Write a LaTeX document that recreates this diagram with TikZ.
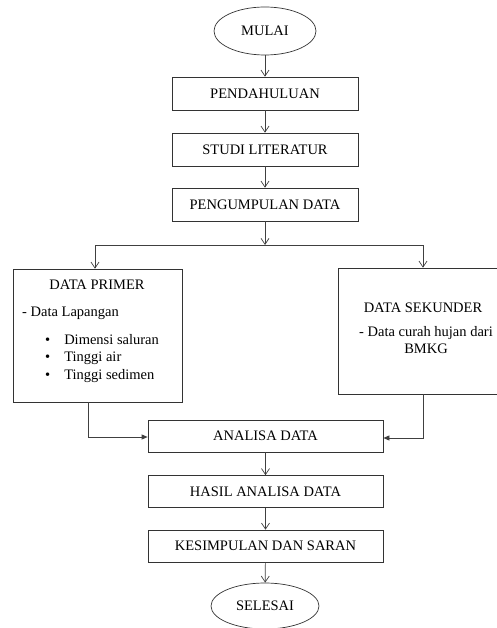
\documentclass[tikz,border=0pt]{standalone}
\usepackage{fontspec}
\setmainfont{Liberation Serif}
\usetikzlibrary{shapes.geometric,arrows.meta}
\begin{document}
\begin{tikzpicture}[x=1pt,y=-1pt,
    font=\fontsize{14.5}{17}\selectfont,
    stepbox/.style={draw=black!80,line width=0.7pt,minimum width=186pt,minimum height=33pt,inner sep=0pt},
    widebox/.style={stepbox,minimum width=235pt,minimum height=32pt},
    ends/.style={draw=black!80,line width=0.7pt,ellipse,inner sep=0pt},
    line/.style={draw=black!75,line width=0.7pt},
    flow/.style={line,-{Straight Barb[length=6pt,width=8pt]}},
    feed/.style={line,-{Triangle[length=6pt,width=5pt]}}]
            \useasboundingbox (0,0) rectangle (497,628);
            \node[ends,minimum width=102pt,minimum height=48pt] (M) at (265,31) {MULAI};
            \node[stepbox] (Pd) at (265,93.5) {PENDAHULUAN};
            \node[stepbox] (St) at (265,149.5) {STUDI LITERATUR};
            \node[stepbox] (Pg) at (265,204.5) {PENGUMPULAN DATA};

            \coordinate (B0) at (265,245);
            \coordinate (BL) at (95,245);
            \coordinate (BR) at (423,245);

            \node[draw=black!80,line width=0.7pt,minimum width=169pt,minimum height=133pt] (Pr) at (97.5,335.5) {};
            \node (PrT) at (97,285) {DATA PRIMER};
            \node[anchor=west,inner sep=0pt] (PrA) at (22,313) {- Data Lapangan};
            \node[anchor=west,inner sep=0pt] (PrB) at (45,340) {\textbullet\hspace{14pt}Dimensi saluran};
            \node[anchor=west,inner sep=0pt] (PrC) at (45,358) {\textbullet\hspace{14pt}Tinggi air};
            \node[anchor=west,inner sep=0pt] (PrD) at (45,376) {\textbullet\hspace{14pt}Tinggi sedimen};

            \node[draw=black!80,line width=0.7pt,minimum width=159pt,minimum height=126pt] (Sk) at (417.5,331) {};
            \node (SkT) at (423,308) {DATA SEKUNDER};
            \node[align=center,inner sep=0pt] (SkA) at (426,340) {- Data curah hujan dari\\BMKG};

            \node[widebox] (An) at (265.5,436) {ANALISA DATA};
            \node[widebox] (Hs) at (265.5,491.5) {HASIL ANALISA DATA};
            \node[widebox] (Ks) at (265.5,546) {KESIMPULAN DAN SARAN};
            \node[ends,minimum width=108pt,minimum height=46pt] (Se) at (265,606) {SELESAI};

            \coordinate (PL) at (88,437);
            \coordinate (SR) at (423,438);

            \draw[flow] (M) -- (Pd);
            \draw[flow] (Pd) -- (St);
            \draw[flow] (St) -- (Pg);
            \draw[flow] (Pg) -- (B0);
            \draw[line] (BL) -- (BR);
            \draw[flow] (BL) -- (BL |- Pr.north);
            \draw[flow] (BR) -- (BR |- Sk.north);
            \draw[feed] (Pr.south -| PL) -- (PL) -- (An.west |- PL);
            \draw[feed] (Sk.south -| SR) -- (SR) -- (An.east |- SR);
            \draw[flow] (An) -- (Hs);
            \draw[flow] (Hs) -- (Ks);
            \draw[flow] (Ks) -- (Se);
          \end{tikzpicture}
\end{document}
